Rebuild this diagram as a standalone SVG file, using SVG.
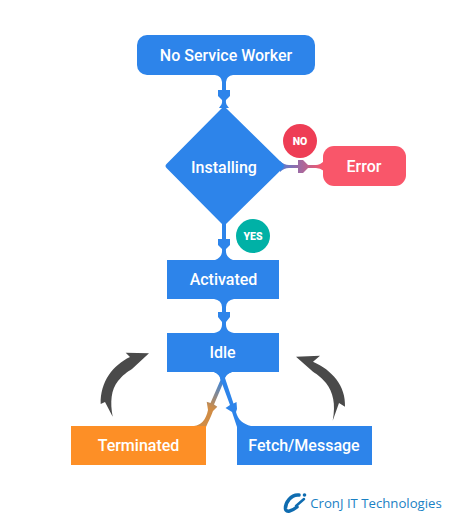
<svg xmlns="http://www.w3.org/2000/svg" width="458" height="530" viewBox="0 0 458 530">
<defs>
<linearGradient id="noGrad" gradientUnits="userSpaceOnUse" x1="270" y1="0" x2="323" y2="0"><stop offset="0" stop-color="#2d84ea"/><stop offset="1" stop-color="#f9566a"/></linearGradient>
<linearGradient id="termGrad" gradientUnits="userSpaceOnUse" x1="222" y1="378" x2="210" y2="408"><stop offset="0" stop-color="#2d84ea"/><stop offset="1" stop-color="#d08c45"/></linearGradient>
</defs>
<style>
text{font-family:Roboto,"Liberation Sans",sans-serif;font-weight:500;fill:#fff;text-anchor:middle}
.lbl{font-size:16px}
.badge{font-size:10.5px;font-weight:900}
.blue{fill:#2d84ea}
.grey{fill:#4a4a4a}
</style>
<rect width="458" height="530" fill="#fff"/>
<g id="connectors">
<path class="blue" d="M215 75Q221.500 76 222 82L222 90L218 90L218 96L222 100C222.500 104 221 105 219 108L229 108C227 105 225.500 104 226 100L230 96L230 90L226 90L226 82Q226.500 76 233 75Z"/>
<path class="blue" d="M222 222L222 239L218 239L218 245L222 249C222.500 255 220 258 215 260L233 260C228 258 225.500 255 226 249L230 245L230 239L226 239L226 222Z"/>
<path class="blue" d="M214 299Q221.500 300 222 307L222 312L218 312L218 317L222 322C222.500 329 220 332 214 333L234 333C228 332 225.500 329 226 322L230 317L230 312L226 312L226 307Q226.500 300 234 299Z"/>
<path fill="url(#noGrad)" d="M280 161Q284 165 289 165L298 165L298 160L303 160L308 165L316 165Q320 165 324 161L324 171Q320 168 316 168L308 168L303 173L298 173L298 168L289 168Q284 168 280 172Z"/>
<path fill="url(#termGrad)" d="M214 372L232 372Q225 374 224 381L214 404.500L217.300 406.700L213 411C211 417 208 422 206 427L194 426C201 425 206 420 208 410L206.700 401.700L210.500 403L220.500 380Q220 374 214 372Z"/>
<path class="blue" d="M214 372L232 372Q226 374 225 378L233.500 403.500L236.500 402L237 409L236 412C238 420 243 424 251 426L237 427L234 418L232 412L225.500 408L230 405L221.500 382Q220 374 214 372Z"/>
</g>
<g id="no-service-worker"><rect class="blue" x="137" y="35" width="178" height="40" rx="10"/><text class="lbl" x="226" y="61">No Service Worker</text></g>
<g id="installing"><path class="blue" d="M221 109Q224 105 227 109L283 164Q285 166 283 168L227 223Q224 227 221 223L166.500 168Q164.500 166 166.500 164Z"/><text class="lbl" x="224" y="173">Installing</text></g>
<g id="error"><rect x="323" y="146" width="83" height="40" rx="11" fill="#f9566a"/><text class="lbl" x="364" y="172">Error</text></g>
<g id="no-badge"><circle cx="300" cy="141" r="17" fill="#ee3d55"/><text class="badge" x="300" y="145">NO</text></g>
<g id="yes-badge"><circle cx="253" cy="236" r="17" fill="#00b1a6"/><text class="badge" x="253" y="240">YES</text></g>
<g id="activated"><rect class="blue" x="167" y="260" width="112" height="39"/><text class="lbl" x="223.500" y="285">Activated</text></g>
<g id="idle"><rect class="blue" x="167" y="333" width="112" height="39"/><text class="lbl" x="222.500" y="358">Idle</text></g>
<g id="terminated"><rect x="71" y="426" width="135" height="39" fill="#fd8f26"/><text class="lbl" x="138.500" y="451">Terminated</text></g>
<g id="fetch-message"><rect class="blue" x="237" y="426" width="135" height="39"/><text class="lbl" x="304" y="451">Fetch/Message</text></g>
<g id="arrow-left"><path class="grey" d="M149 353.300L125.700 352.700L130 357C113 365 100 382 100.700 404L105 402L112.700 416.700C110 402 111 390 118 381C123 375 127 372 132 369Z"/></g>
<g id="arrow-right"><path class="grey" d="M296 356.700L320 355.700L313 361.700C332 370 346 386 345 406.700L339 403L332.700 420.700C336 404 333 392 326 383C321 377 318 375 313 371.700Z"/></g>
<g id="logo">
<path fill="none" stroke="#0f6cb0" stroke-width="3.500" stroke-linecap="round" d="M299 495C291 494 285 503 285.500 509C286 513 292 511 297 507"/>
<path fill="none" stroke="#0f6cb0" stroke-width="2.500" stroke-linecap="round" d="M304 499L296 506"/>
<circle cx="304.500" cy="495" r="1.800" fill="#0f6cb0"/>
<text x="376" y="508" style="font-family:'Open Sans','Noto Sans',sans-serif;font-size:13.200px;font-weight:500;fill:#1a81c4">CronJ IT Technologies</text>
</g>
</svg>
